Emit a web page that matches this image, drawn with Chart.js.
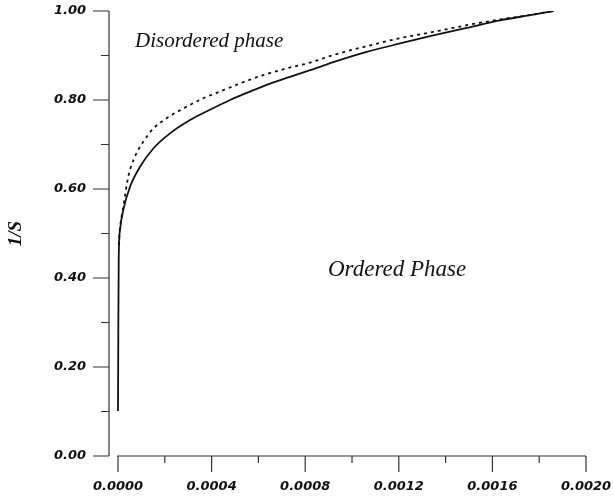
<!DOCTYPE html>
<html>
<head>
<meta charset="utf-8">
<script src="https://cdn.jsdelivr.net/npm/chart.js@4/dist/chart.umd.min.js"></script>
<style>
  html, body { margin: 0; padding: 0; background: #ffffff; }
  canvas { display: block; }
</style>
</head>
<body>
<canvas id="c" width="613" height="500"></canvas>
<script>
// ---- data ----
const solidX = [0, 0.0000013, 0.000003, 0.0000085, 0.0000226, 0.0000513, 0.000094, 0.000151, 0.000222, 0.000308, 0.000393, 0.000479, 0.000564, 0.000650, 0.000735, 0.000821, 0.000920, 0.001063, 0.001205, 0.001347, 0.001490, 0.001632, 0.001775, 0.001862];
const solidY = [0.101, 0.283, 0.440, 0.508, 0.553, 0.605, 0.650, 0.691, 0.725, 0.755, 0.778, 0.800, 0.819, 0.837, 0.852, 0.867, 0.885, 0.908, 0.927, 0.945, 0.962, 0.979, 0.992, 1.000];
const dottedX = [0.000003, 0.0000085, 0.0000226, 0.000044, 0.0000726, 0.000108, 0.000151, 0.000208, 0.000279, 0.000365, 0.000450, 0.000535, 0.000621, 0.000721, 0.000821, 0.000920, 0.001063, 0.001205, 0.001347, 0.001490, 0.001632, 0.001775, 0.001862];
const dottedY = [0.474, 0.512, 0.560, 0.628, 0.673, 0.706, 0.736, 0.759, 0.781, 0.804, 0.822, 0.840, 0.856, 0.871, 0.884, 0.901, 0.921, 0.939, 0.953, 0.968, 0.981, 0.992, 1.000];

const xTicks = [0, 0.0004, 0.0008, 0.0012, 0.0016, 0.0020];
const xTickLabels = ['0.0000', '0.0004', '0.0008', '0.0012', '0.0016', '0.0020'];
const xMinorTicks = [0.0002, 0.0006, 0.0010, 0.0014, 0.0018];
const yTicks = [0, 0.2, 0.4, 0.6, 0.8, 1.0];
const yTickLabels = ['0.00', '0.20', '0.40', '0.60', '0.80', '1.00'];
const yMinorTicks = [0.1, 0.3, 0.5, 0.7, 0.9];

const yTitle = '1/S';
const labelUpper = 'Disordered phase';
const labelLower = 'Ordered Phase';

// ---- chart ----
const tickFont = { family: 'DejaVu Sans', size: 13, style: 'italic', weight: 'bold' };
const axisColor = '#333333';

const axesPlugin = {
  id: 'offsetAxes',
  afterDraw(chart) {
    const ctx = chart.ctx;
    const xs = chart.scales.x, ys = chart.scales.y;
    const y0 = ys.getPixelForValue(0), y1 = ys.getPixelForValue(1);
    const xLeft = chart.chartArea.left;
    const x0 = xs.getPixelForValue(0), xEnd = xs.getPixelForValue(0.002);
    ctx.save();
    ctx.strokeStyle = axisColor;
    ctx.lineWidth = 1.2;
    ctx.beginPath();
    // y axis line
    ctx.moveTo(xLeft, y1); ctx.lineTo(xLeft, y0);
    yTicks.forEach(v => { const p = ys.getPixelForValue(v); ctx.moveTo(xLeft - 16, p); ctx.lineTo(xLeft, p); });
    yMinorTicks.forEach(v => { const p = ys.getPixelForValue(v); ctx.moveTo(xLeft - 8, p); ctx.lineTo(xLeft, p); });
    // x axis line
    ctx.moveTo(x0 - 1, y0); ctx.lineTo(xEnd, y0);
    xTicks.forEach(v => { const p = xs.getPixelForValue(v); ctx.moveTo(p, y0); ctx.lineTo(p, y0 + 16); });
    xMinorTicks.forEach(v => { const p = xs.getPixelForValue(v); ctx.moveTo(p, y0); ctx.lineTo(p, y0 + 7); });
    ctx.stroke();

    // annotations
    ctx.fillStyle = '#111111';
    ctx.textBaseline = 'alphabetic';
    ctx.textAlign = 'left';
    ctx.font = 'italic 21px "Liberation Serif"';
    ctx.fillText(labelUpper, xLeft + 26, ys.top + 36);
    ctx.font = 'italic 23px "Liberation Serif"';
    ctx.fillText(labelLower, xLeft + 219, ys.top + 265);
    ctx.restore();
  }
};

new Chart(document.getElementById('c'), {
  type: 'line',
  data: {
    datasets: [
      {
        label: 'solid',
        data: solidX.map((x, i) => ({ x: x, y: solidY[i] })),
        borderColor: '#111111',
        borderWidth: 1.8,
        pointRadius: 0,
        cubicInterpolationMode: 'monotone',
        fill: false
      },
      {
        label: 'dotted',
        data: dottedX.map((x, i) => ({ x: x, y: dottedY[i] })),
        borderColor: '#111111',
        borderWidth: 1.8,
        borderDash: [3, 4],
        pointRadius: 0,
        cubicInterpolationMode: 'monotone',
        fill: false
      }
    ]
  },
  options: {
    responsive: false,
    animation: false,
    devicePixelRatio: 1,
    layout: { padding: { top: 11, right: 27, bottom: 0, left: 0 } },
    plugins: { legend: { display: false }, tooltip: { enabled: false } },
    scales: {
      x: {
        type: 'linear',
        min: -0.0000385,
        max: 0.002,
        grid: { display: false, drawTicks: false },
        border: { display: false },
        afterBuildTicks(s) { s.ticks = xTicks.map(v => ({ value: v })); },
        afterFit(s) { s.height = 44; s.paddingLeft = 0; s.paddingRight = 0; },
        ticks: {
          font: tickFont,
          color: '#111111',
          padding: 23,
          maxRotation: 0,
          autoSkip: false,
          callback: (v, i) => xTickLabels[i]
        }
      },
      y: {
        type: 'linear',
        min: 0,
        max: 1,
        grid: { display: false, drawTicks: false },
        border: { display: false },
        afterBuildTicks(s) { s.ticks = yTicks.map(v => ({ value: v })); },
        afterFit(s) { s.width = 109; s.paddingTop = 0; s.paddingBottom = 0; },
        title: {
          display: true,
          text: yTitle,
          color: '#111111',
          font: { family: 'Liberation Serif', size: 19, style: 'italic', weight: 'bold' },
          padding: { top: 5, bottom: 0 }
        },
        ticks: {
          font: tickFont,
          color: '#111111',
          padding: 23,
          autoSkip: false,
          callback: (v, i) => yTickLabels[i]
        }
      }
    }
  },
  plugins: [axesPlugin]
});
</script>
</body>
</html>
